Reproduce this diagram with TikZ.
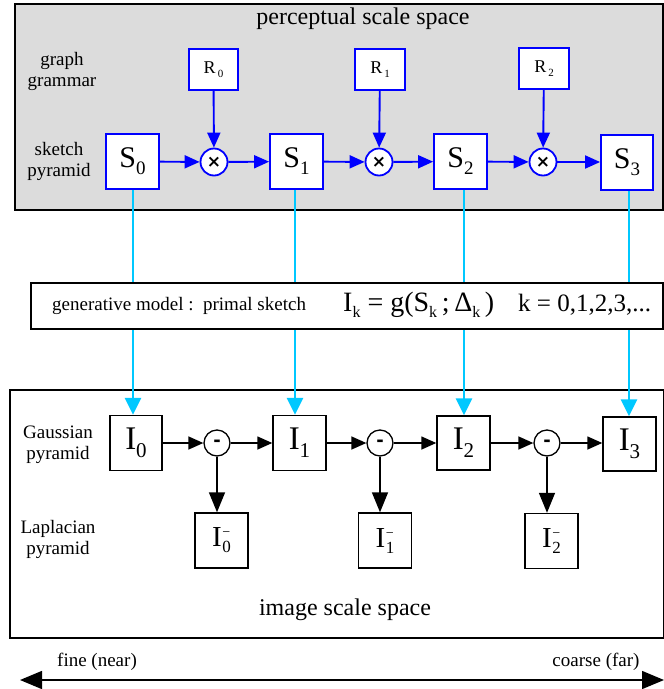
\documentclass[tikz,border=0pt]{standalone}
\usepackage{fontspec}
\setmainfont{Liberation Serif}
\newfontfamily\dejavu{DejaVu Sans}
\usetikzlibrary{arrows.meta}
\definecolor{myblue}{RGB}{0,0,255}
\definecolor{mycyan}{RGB}{0,200,255}
\definecolor{mygray}{RGB}{220,220,220}
\newcommand{\fs}[1]{\fontsize{#1}{#1}\selectfont}
\newcommand{\Sbox}[1]{\fs{30}S\raisebox{-7pt}{\fs{19}#1}}
\newcommand{\Rbox}[1]{\fs{18}R\hspace{2pt}\raisebox{-4pt}{\fs{11}#1}}
\newcommand{\Ibox}[1]{\fs{33}I\raisebox{-8pt}{\fs{21}#1}}
\newcommand{\Imbox}[1]{\fs{29}I\hspace{0.5pt}\raisebox{-6pt}{\fs{17}\rlap{\raisebox{16pt}{\fs{14}−}}#1}}
\begin{document}
\begin{tikzpicture}[x=1pt,y=-1pt,
  frame/.style={draw=black,line width=1.6pt,inner sep=0pt,anchor=north west},
  bluebox/.style={draw=myblue,line width=1.8pt,fill=white,inner sep=0pt},
  blackbox/.style={draw=black,line width=1.4pt,fill=white,inner sep=0pt,minimum width=53pt,minimum height=55pt},
  bluecirc/.style={draw=myblue,line width=1.8pt,fill=white,circle,inner sep=0pt,minimum size=27pt},
  blackcirc/.style={draw=black,line width=1.3pt,fill=white,circle,inner sep=0pt,minimum size=26pt},
  bluearrow/.style={draw=myblue,line width=1.9pt,-{Triangle[length=15pt,width=13pt]}},
  blackarrow/.style={draw=black,line width=1.5pt,-{Triangle[length=15pt,width=13pt]}},
  downarrow/.style={draw=black,line width=1.5pt,-{Triangle[length=20pt,width=16pt]}},
  cyanarrow/.style={draw=mycyan,line width=2.8pt,-{Triangle[length=17pt,width=16pt]}},
  lab/.style={font=\fs{19},align=center,inner sep=0pt},
]
\useasboundingbox (0,0) rectangle (664,689);

% frames
\node[frame,fill=mygray,minimum width=648pt,minimum height=206pt] (topframe) at (14,3) {};
\node[frame,fill=white,minimum width=654pt,minimum height=248pt] (botframe) at (9,389) {};

\node[font=\fs{24},inner sep=0pt] (ttitle) at (363,19) {perceptual scale space};
\node[font=\fs{24},inner sep=0pt] (btitle) at (345,610) {image scale space};

\node[lab] (gg) at (62,71) {graph\\[2pt]grammar};
\node[lab] (sp) at (59,161) {sketch\\[2pt]pyramid};
\node[lab] (gp) at (58,445) {Gaussian\\[2pt]pyramid};
\node[lab] (lp) at (58,539) {Laplacian\\[2pt]pyramid};

% S nodes
\node[bluebox,minimum width=53pt,minimum height=55pt] (S0) at (132.5,161.5) {\Sbox{0}};
\node[bluebox,minimum width=53pt,minimum height=55pt] (S1) at (296.5,161.5) {\Sbox{1}};
\node[bluebox,minimum width=53pt,minimum height=55pt] (S2) at (460.5,161.5) {\Sbox{2}};
\node[bluebox,minimum width=52pt,minimum height=55pt] (S3) at (627,162.5) {\Sbox{3}};

% R nodes
\node[bluebox,minimum width=49pt,minimum height=41pt] (R0) at (213.5,69.5) {\Rbox{0}};
\node[bluebox,minimum width=50pt,minimum height=41pt] (R1) at (380,69.5) {\Rbox{1}};
\node[bluebox,minimum width=50pt,minimum height=41pt] (R2) at (544,68.5) {\Rbox{2}};

% product circles
\node[bluecirc] (X0) at (214,162) {\dejavu\bfseries\fs{17}×};
\node[bluecirc] (X1) at (379,162) {\dejavu\bfseries\fs{17}×};
\node[bluecirc] (X2) at (543,162) {\dejavu\bfseries\fs{17}×};

% I nodes
\node[blackbox,minimum width=52pt] (I0) at (136,443) {\Ibox{0}};
\node[blackbox] (I1) at (299.5,443) {\Ibox{1}};
\node[blackbox,minimum height=54pt] (I2) at (463.5,443) {\Ibox{2}};
\node[blackbox,minimum height=54pt] (I3) at (629.5,444) {\Ibox{3}};

% minus circles
\node[blackcirc] (M0) at (217,443) {\dejavu\bfseries\fs{18}-};
\node[blackcirc] (M1) at (380,443) {\dejavu\bfseries\fs{18}-};
\node[blackcirc] (M2) at (547,443) {\dejavu\bfseries\fs{18}-};

% Laplacian nodes
\node[blackbox] (L0) at (221.5,540.5) {\Imbox{0}};
\node[blackbox] (L1) at (385,540.5) {\Imbox{1}};
\node[blackbox] (L2) at (551.5,541) {\Imbox{2}};

% cyan arrows (behind generative box)
\draw[cyanarrow] ([xshift=0.5pt]S0.south) -- ([xshift=0.5pt]S0.south |- I0.north);
\draw[cyanarrow] ([xshift=-1.5pt]S1.south) -- ([xshift=-1.5pt]S1.south |- I1.north);
\draw[cyanarrow] ([xshift=3.5pt]S2.south) -- ([xshift=3.5pt]S2.south |- I2.north);
\draw[cyanarrow] ([xshift=2pt]S3.south) -- ([xshift=2pt]S3.south |- I3.north);

% generative model box
\node[draw=black,line width=1.5pt,fill=white,minimum width=632pt,minimum height=46pt,inner sep=0pt] (gen) at (347,306) {};
\node[lab,anchor=west] (gentext) at (52,306) {generative model :\ \ primal sketch};
\node[inner sep=0pt,anchor=west] (formula) at (343,305) {\fs{28}I\raisebox{-6pt}{\fs{16}k} = g(S\raisebox{-6pt}{\fs{16}k}\,;\,Δ\raisebox{-6pt}{\fs{16}k}\,)};
\node[inner sep=0pt,anchor=west] (kvals) at (518,305) {\fs{25}k = 0,1,2,3,...};

% blue arrows
\draw[bluearrow] (S0) -- (X0);
\draw[bluearrow] (X0) -- (S1);
\draw[bluearrow] (S1) -- (X1);
\draw[bluearrow] (X1) -- (S2);
\draw[bluearrow] (S2) -- (X2);
\draw[bluearrow] (X2) -- (X2 -| S3.west);
\draw[bluearrow] (R0) -- (X0);
\draw[bluearrow] (R1) -- (X1);
\draw[bluearrow] (R2) -- (X2);

% black arrows
\draw[blackarrow] (I0) -- (M0);
\draw[blackarrow] (M0) -- (I1);
\draw[blackarrow] (I1) -- (M1);
\draw[blackarrow] (M1) -- (I2);
\draw[blackarrow] (I2) -- (M2);
\draw[blackarrow] (M2) -- (M2 -| I3.west);
\draw[downarrow] (M0.south) -- (M0.south |- L0.north);
\draw[downarrow] (M1.south) -- (M1.south |- L1.north);
\draw[downarrow] (M2.south) -- (M2.south |- L2.north);

% scale axis
\coordinate (fl) at (20,680);
\coordinate (fr) at (664,680);
\draw[black,line width=1.5pt,{Triangle[length=22pt,width=18pt]}-{Triangle[length=22pt,width=18pt]}] (fl) -- (fr);
\node[lab] (fine) at (97,662) {fine (near)};
\node[lab] (coarse) at (596,662) {coarse (far)};
\end{tikzpicture}
\end{document}
